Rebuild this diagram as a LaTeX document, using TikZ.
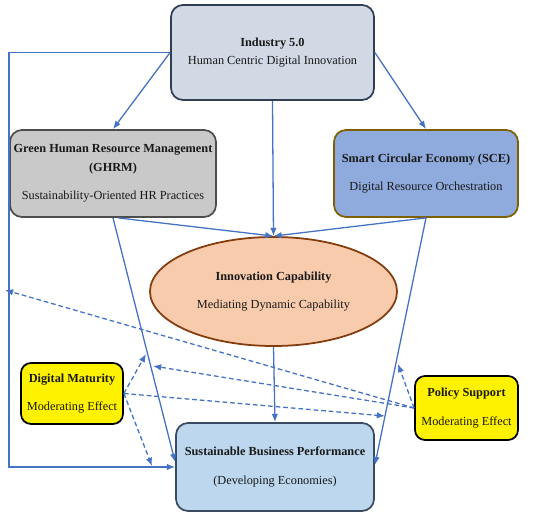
\documentclass[tikz,border=0pt]{standalone}
\usepackage{fontspec}
\setmainfont{Liberation Serif}
\usepackage{xcolor}
\usepackage{tikz}
\usetikzlibrary{arrows.meta,shapes.geometric}
\definecolor{linea}{HTML}{4472C4}
\definecolor{indfill}{HTML}{D0D9E4}
\definecolor{inddraw}{HTML}{2F3E55}
\definecolor{ghrmfill}{HTML}{C9C9C9}
\definecolor{ghrmdraw}{HTML}{4D4D4D}
\definecolor{scefill}{HTML}{8FAADC}
\definecolor{scedraw}{HTML}{7F6000}
\definecolor{ellfill}{HTML}{F8CBAD}
\definecolor{elldraw}{HTML}{843C0C}
\definecolor{sbpfill}{HTML}{BDD7EE}
\definecolor{sbpdraw}{HTML}{3A4A60}
\tikzset{
  boxnode/.style={draw, line width=1.5pt, rounded corners=0.36cm, align=center, inner sep=2pt,
    font=\fontsize{10.5}{12.6}\selectfont, text=black!90},
  modbox/.style={boxnode, fill=yellow, draw=black, rounded corners=0.3cm},
  link/.style={->, linea, line width=1.1pt},
  modlink/.style={link, dash pattern=on 4pt off 2.5pt}
}

\begin{document}
\begin{tikzpicture}[x=0.03cm, y=-0.03cm, >={Latex[length=7pt,width=5.5pt]}]
    \useasboundingbox (0,0) rectangle (550,516);
    % Blocchi principali
    \node[boxnode, fill=indfill, draw=inddraw, minimum width=6.09cm, minimum height=2.85cm] (ind) at (272.5,52.5)
    {\textbf{Industry 5.0}\\[2.5pt] Human Centric Digital Innovation};
    \node[boxnode, fill=ghrmfill, draw=ghrmdraw, minimum width=6.18cm, minimum height=2.61cm] (ghrm) at (113,173.5)
    {\textbf{Green Human Resource Management}\\[3pt] \textbf{(GHRM)}\\[11.5pt] Sustainability-Oriented HR Practices};
    \node[boxnode, fill=scefill, draw=scedraw, minimum width=5.52cm, minimum height=2.61cm] (sce) at (426,173.5)
    {\textbf{Smart Circular Economy (SCE)}\\[12pt] Digital Resource Orchestration};
    \node[ellipse, draw=elldraw, fill=ellfill, line width=1.5pt, inner sep=0pt, align=center,
      font=\fontsize{10.5}{12.6}\selectfont, text=black!90,
      minimum width=7.41cm, minimum height=3.27cm] (innov) at (273.5,291.5)
    {\textbf{Innovation Capability}\\[12pt] Mediating Dynamic Capability};
    \node[boxnode, fill=sbpfill, draw=sbpdraw, minimum width=5.94cm, minimum height=2.64cm] (sbp) at (275,467)
    {\textbf{Sustainable Business Performance}\\[12pt] (Developing Economies)};
    % Moderatori
    \node[modbox, minimum width=3.06cm, minimum height=1.83cm] (digmat) at (72,393.5)
    {\textbf{Digital Maturity}\\[12pt] Moderating Effect};
    \node[modbox, minimum width=3.09cm, minimum height=1.92cm] (policy) at (466.5,408)
    {\textbf{Policy Support}\\[12pt] Moderating Effect};
    % Estremi liberi
    \coordinate (lft) at (9,52.5);
    \coordinate (psa) at (5,290);
    \coordinate (psb) at (153,366);
    \coordinate (psc) at (398,364);
    \coordinate (dma) at (146,354);
    \coordinate (dmb) at (385,416);
    \coordinate (dmc) at (152,466);
    % Frecce continue
    \draw[link] (ind.west) -- (lft) |- (sbp.west);
    \draw[link] (ind.west) -- (ghrm.north);
    \draw[link] (ind.east) -- (sce.north);
    \draw[link] (ind.south) -- (innov.north);
    \draw[link] ([xshift=0.15cm]ghrm.south) -- (innov.north);
    \draw[link] (sce.south) -- (innov.north);
    \draw[link] (ghrm.south) -- ([yshift=0.15cm]sbp.west);
    \draw[link] (sce.south) -- ([yshift=0.06cm]sbp.east);
    \draw[link] (innov.south) -- (sbp.north);
    % Frecce tratteggiate
    \draw[modlink] (policy.west) -- (psa);
    \draw[modlink] (policy.west) -- (psb);
    \draw[modlink] (policy.west) -- (psc);
    \draw[modlink] (digmat.east) -- (dma);
    \draw[modlink] (digmat.east) -- (dmb);
    \draw[modlink] (digmat.east) -- (dmc);
\end{tikzpicture}
\end{document}
